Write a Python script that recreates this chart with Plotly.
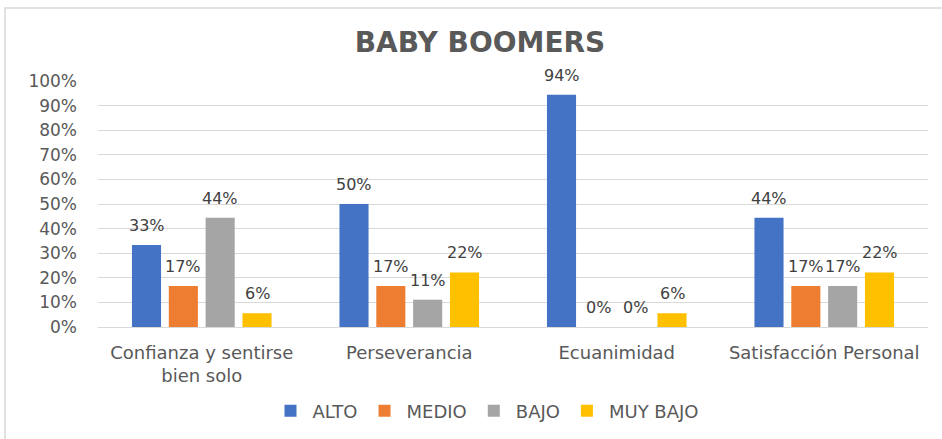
import plotly.graph_objects as go

categories = ["Confianza y sentirse<br>bien solo", "Perseverancia", "Ecuanimidad", "Satisfacción Personal"]
series_names = ["ALTO", "MEDIO", "BAJO", "MUY BAJO"]
alto = [0.333, 0.500, 0.944, 0.444]
medio = [0.167, 0.167, 0.0, 0.167]
bajo = [0.444, 0.111, 0.0, 0.167]
muy_bajo = [0.056, 0.222, 0.056, 0.222]
colors = ["#4472C4", "#ED7D31", "#A5A5A5", "#FFC000"]
y_ticks = [i / 10 for i in range(11)]

W, H = 942, 439
L, R, T, B = 98, 14, 81, 112
pw, ph = W - L - R, H - T - B
BARGAP, BARGROUPGAP = 0.29, 0.21

all_series = [alto, medio, bajo, muy_bajo]

fig = go.Figure()
for name, vals, col in zip(series_names, all_series, colors):
    fig.add_trace(go.Bar(
        x=categories, y=vals, name=name, marker_color=col,
        marker_line_width=0,
    ))

# data labels placed above each grouped bar, derived from the data
annotations = []
n = len(all_series)
slot = (1 - BARGAP) / n
for si, vals in enumerate(all_series):
    off = -(1 - BARGAP) / 2 + slot * (si + 0.5)
    for ci, v in enumerate(vals):
        annotations.append(dict(
            x=ci + off, y=v, xref="x", yref="y", text=f"{v:.0%}", showarrow=False,
            yanchor="bottom", yshift=8,
            font=dict(family="DejaVu Sans", size=16, color="#404040"),
        ))

def px_x(x):
    return (x - L) / pw

def px_y(y):
    return (H - B - y) / ph

fig.update_layout(
    width=W, height=H,
    margin=dict(l=L, r=R, t=T, b=B, autoexpand=False),
    paper_bgcolor="white", plot_bgcolor="white",
    barmode="group", bargap=BARGAP, bargroupgap=BARGROUPGAP,
    title=dict(text="<b>BABY BOOMERS</b>", x=480 / W, xref="container", xanchor="center",
               y=1 - 42 / H, yref="container", yanchor="middle",
               font=dict(family="DejaVu Sans", size=28, color="#595959")),
    font=dict(family="DejaVu Sans", size=16, color="#595959"),
    legend=dict(orientation="h", x=px_x(486), xanchor="center", y=px_y(411), yanchor="middle",
                font=dict(family="DejaVu Sans", size=18, color="#595959"),
                itemwidth=34, tracegroupgap=0),
    xaxis=dict(showgrid=False, showline=False, ticks="", ticklabelstandoff=13,
               range=[-0.5, 3.5], automargin=False,
               tickfont=dict(family="DejaVu Sans", size=18, color="#595959")),
    yaxis=dict(range=[0, 1.0], tickvals=y_ticks, tickformat=".0%", showgrid=True,
               gridcolor="#D9D9D9", gridwidth=1, zeroline=True, zerolinecolor="#D9D9D9",
               zerolinewidth=1, showline=False, ticks="", ticklabelstandoff=20, automargin=False,
               tickfont=dict(family="DejaVu Sans", size=17, color="#595959")),
    annotations=annotations,
    shapes=[dict(type="rect", xref="paper", yref="paper",
                 x0=px_x(5), x1=px_x(945), y0=px_y(445), y1=px_y(8),
                 line=dict(color="#D9D9D9", width=1.5), fillcolor="rgba(0,0,0,0)", layer="below")],
)

fig.write_html("out.html", config={"displayModeBar": False},
               post_script="document.body.style.margin='0';document.body.style.overflow='hidden';")
